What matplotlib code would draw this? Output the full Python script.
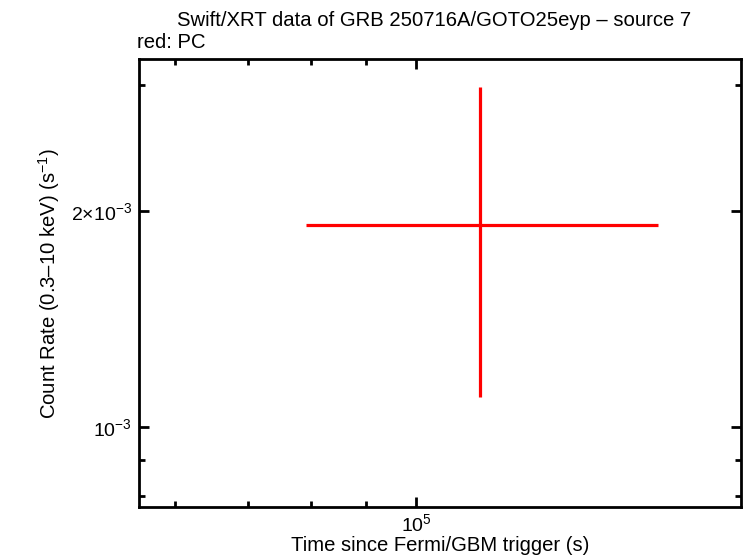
import matplotlib
matplotlib.use("Agg")
import matplotlib.pyplot as plt
from matplotlib.ticker import FixedLocator, FixedFormatter, NullFormatter

plt.rcParams['font.family'] = ['Liberation Sans', 'DejaVu Sans']
plt.rcParams['mathtext.fontset'] = 'custom'
plt.rcParams['mathtext.rm'] = 'Liberation Sans'
plt.rcParams['mathtext.it'] = 'Liberation Sans:italic'
plt.rcParams['mathtext.bf'] = 'Liberation Sans:bold'

# Data (PC mode)
time = [1.146e5]
time_lo = [7.92e4]
time_hi = [1.670e5]
rate = [1.910e-3]
rate_lo = [1.099e-3]
rate_hi = [2.981e-3]

x_major = [1e5]
x_major_labels = [r'10$^{5}$']
x_minor = [6e4, 7e4, 8e4, 9e4]
y_major = [1e-3, 2e-3]
y_major_labels = [r'10$^{-3}$', r'2×10$^{-3}$']
y_minor = [8e-4, 9e-4, 3e-3]

W, H = 746, 558
fig = plt.figure(figsize=(W / 100, H / 100), dpi=100)
L, R, T, B = 138.7, 741, 59, 507.3
ax = fig.add_axes([L / W, 1 - B / H, (R - L) / W, (B - T) / H])

xerr = [[t - lo for t, lo in zip(time, time_lo)], [hi - t for t, hi in zip(time, time_hi)]]
yerr = [[r - lo for r, lo in zip(rate, rate_lo)], [hi - r for r, hi in zip(rate, rate_hi)]]
ax.errorbar(time, rate, xerr=xerr, yerr=yerr, fmt='none', ecolor='#ff0000',
            elinewidth=2.3, capsize=0)

ax.set_xscale('log')
ax.set_yscale('log')
ax.set_xlim(5.55e4, 1.993e5)
ax.set_ylim(7.72e-4, 3.26e-3)

ax.xaxis.set_major_locator(FixedLocator(x_major))
ax.xaxis.set_major_formatter(FixedFormatter(x_major_labels))
ax.xaxis.set_minor_locator(FixedLocator(x_minor))
ax.xaxis.set_minor_formatter(NullFormatter())
ax.yaxis.set_major_locator(FixedLocator(y_major))
ax.yaxis.set_major_formatter(FixedFormatter(y_major_labels))
ax.yaxis.set_minor_locator(FixedLocator(y_minor))
ax.yaxis.set_minor_formatter(NullFormatter())

ax.tick_params(which='both', direction='in', top=True, right=True, width=2, color='black',
               labelsize=14, labelcolor='black')
ax.tick_params(which='major', length=7, pad=5)
ax.tick_params(which='minor', length=4)
ax.tick_params(axis='x', which='major', pad=4)
for s in ax.spines.values():
    s.set_linewidth(2)
    s.set_color('black')

ax.set_xlabel('Time since Fermi/GBM trigger (s)', fontsize=14.6, labelpad=1)
ax.set_ylabel('Count Rate (0.3–10 keV) (s$^{-1}$)', fontsize=14.6, labelpad=6)

fig.text(434 / W, 1 - 20 / H, 'Swift/XRT data of GRB 250716A/GOTO25eyp – source 7',
         ha='center', va='center', fontsize=14.6)
fig.text(137 / W, 1 - 42 / H, 'red: PC', ha='left', va='center', fontsize=14.6)

fig.savefig('out.png', dpi=100)
